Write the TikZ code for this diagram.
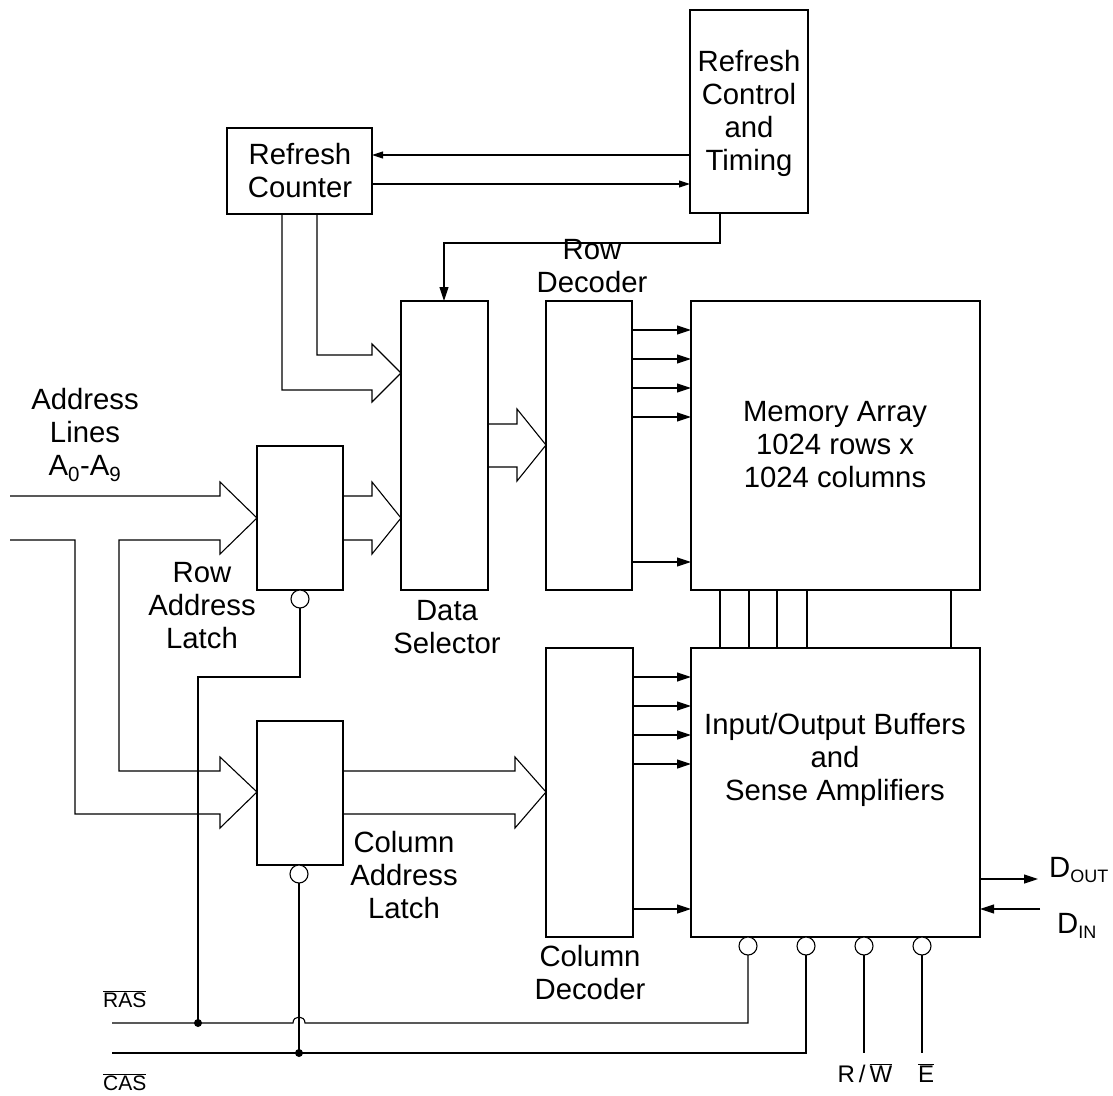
\documentclass[tikz,border=0pt]{standalone}
\usepackage{fontspec}
\setmainfont{Liberation Sans}
\usetikzlibrary{arrows.meta}
\newcommand{\lowsub}[1]{\raisebox{-5pt}{\fontsize{18}{20}\selectfont #1}}
\begin{document}
\begin{tikzpicture}[x=1pt,y=-1pt,
  box/.style={draw, line width=1.1pt, inner sep=0pt, outer sep=0pt, anchor=north west},
  wire/.style={line width=1.1pt},
  arr/.style={wire, -{Triangle[length=14pt,width=9pt]}},
  sarr/.style={wire, -{Triangle[length=11pt,width=7pt]}},
  lbl/.style={font=\fontsize{29.3}{33}\selectfont, align=center, inner sep=0pt},
  sig/.style={font=\fontsize{21}{24}\selectfont, inner sep=0pt},
  pin/.style={font=\fontsize{24}{28}\selectfont, inner sep=0pt},
  bub/.style={draw, circle, line width=1.1pt, minimum size=18pt, inner sep=0pt, outer sep=0pt, fill=white},
  dot/.style={circle, fill=black, minimum size=8pt, inner sep=0pt}]
\useasboundingbox (0,0) rectangle (1113,1095);

% boxes
\node[box, minimum width=118pt, minimum height=203pt] (rct) at (690,10) {};
\node[box, minimum width=145pt, minimum height=86pt] (rcnt) at (227,128) {};
\node[box, minimum width=87pt, minimum height=289pt] (dsel) at (401,301) {};
\node[box, minimum width=86pt, minimum height=289pt] (rdec) at (546,301) {};
\node[box, minimum width=289pt, minimum height=289pt] (mem) at (691,301) {};
\node[box, minimum width=86pt, minimum height=144pt] (ral) at (257,446) {};
\node[box, minimum width=86pt, minimum height=144pt] (cal) at (257,721) {};
\node[box, minimum width=87pt, minimum height=289pt] (cdec) at (546,648) {};
\node[box, minimum width=289pt, minimum height=289pt] (io) at (691,648) {};

% labels
\node[lbl] (t1) at (749,113) {Refresh\\Control\\and\\Timing};
\node[lbl] (t2) at (300,171) {Refresh\\Counter};
\node[lbl] (t3) at (592,266) {Row\\Decoder};
\node[lbl] (t4) at (85,435) {Address\\Lines\\A\textsubscript{0}-A\textsubscript{9}};
\node[lbl] (t5) at (202,606) {Row\\Address\\Latch};
\node[lbl] (t6) at (447,627) {Data\\Selector};
\node[lbl] (t7) at (835,445) {Memory Array\\1024 rows x\\1024 columns};
\node[lbl] (t8) at (835,760) {Input/Output Buffers\\and\\Sense Amplifiers};
\node[lbl] (t9) at (404,875) {Column\\Address\\Latch};
\node[lbl] (t10) at (590,973) {Column\\Decoder};
\node[lbl, anchor=base west] (t11) at (1049,877) {D\lowsub{OUT}};
\node[lbl, anchor=base west] (t12) at (1057,933) {D\lowsub{IN}};
\node[sig, anchor=base west] (t13) at (103,1007) {$\overline{\mbox{RAS}}$};
\node[sig, anchor=base west] (t14) at (103,1090) {$\overline{\mbox{CAS}}$};
\node[pin, anchor=base] (t15) at (865,1082) {R\,/\,$\overline{\mbox{W}}$};
\node[pin, anchor=base] (t16) at (926,1082) {$\overline{\mbox{E}}$};

% refresh control <-> counter
\draw[sarr] (rct.west |- 0,155) -- (rcnt.east |- 0,155);
\draw[sarr] (rcnt.east |- 0,184) -- (rct.west |- 0,184);
\draw[arr] (rct.south -| 720,0) -- (720,243) -- (444,243) -- (dsel.north -| 444,0);

% block arrows
\draw[wire] (10,496) -- (220,496) -- (220,482) -- (ral.west |- 0,518) -- (220,554) -- (220,540)
  -- (119,540) -- (119,771) -- (220,771) -- (220,757) -- (cal.west |- 0,792) -- (220,828)
  -- (220,814) -- (75,814) -- (75,540) -- (10,540);
\draw[wire] (ral.east |- 0,496) -- (372,496) -- (372,482) -- (dsel.west |- 0,518) -- (372,554)
  -- (372,540) -- (ral.east |- 0,540);
\draw[wire] (rcnt.south -| 282,0) -- (282,390) -- (372,390) -- (372,402) -- (dsel.west |- 0,373)
  -- (372,344) -- (372,355) -- (317,355) -- (rcnt.south -| 317,0);
\draw[wire] (dsel.east |- 0,424) -- (517,424) -- (517,409) -- (rdec.west |- 0,445) -- (517,481)
  -- (517,467) -- (dsel.east |- 0,467);
\draw[wire] (cal.east |- 0,771) -- (515,771) -- (515,757) -- (cdec.west |- 0,792) -- (515,828)
  -- (515,814) -- (cal.east |- 0,814);

% decoder outputs
\foreach \y in {330,359,388,417,562} \draw[arr] (rdec.east |- 0,\y) -- (mem.west |- 0,\y);
\foreach \y in {677,706,735,764,909} \draw[arr] (cdec.east |- 0,\y) -- (io.west |- 0,\y);
\foreach \x in {720,749,777,807,951} \draw[wire] (mem.south -| \x,0) -- (io.north -| \x,0);

% data in/out
\coordinate (dout) at (1038,879);
\coordinate (din) at (1040,909);
\draw[arr] (io.east |- dout) -- (dout);
\draw[arr] (din) -- (io.east |- din);

% bubbles
\node[bub] (b1) at (748,946) {};
\node[bub] (b2) at (806,946) {};
\node[bub] (b3) at (864,946) {};
\node[bub] (b4) at (922,946) {};
\node[bub] (rb) at (300,599) {};
\node[bub] (cb) at (299,874) {};

% RAS / CAS wiring
\coordinate (rasL) at (112,1023);
\coordinate (casL) at (112,1053);
\coordinate (j1) at (198,1023);
\coordinate (j2) at (299,1053);
\draw[wire] (rb.south) -- (300,677) -- (198,677) -- (j1);
\draw[wire] (cb.south) -- (j2);
\draw[wire] (rasL) -- (293,1023) .. controls (293,1015) and (305,1015) .. (305,1023) -- (748,1023) -- (b1.south);
\draw[wire] (casL) -- (806,1053) -- (b2.south);
\draw[wire] (b3.south) -- (864,1053);
\draw[wire] (b4.south) -- (922,1053);
\node[dot] (d1) at (j1) {};
\node[dot] (d2) at (j2) {};
\end{tikzpicture}
\end{document}
